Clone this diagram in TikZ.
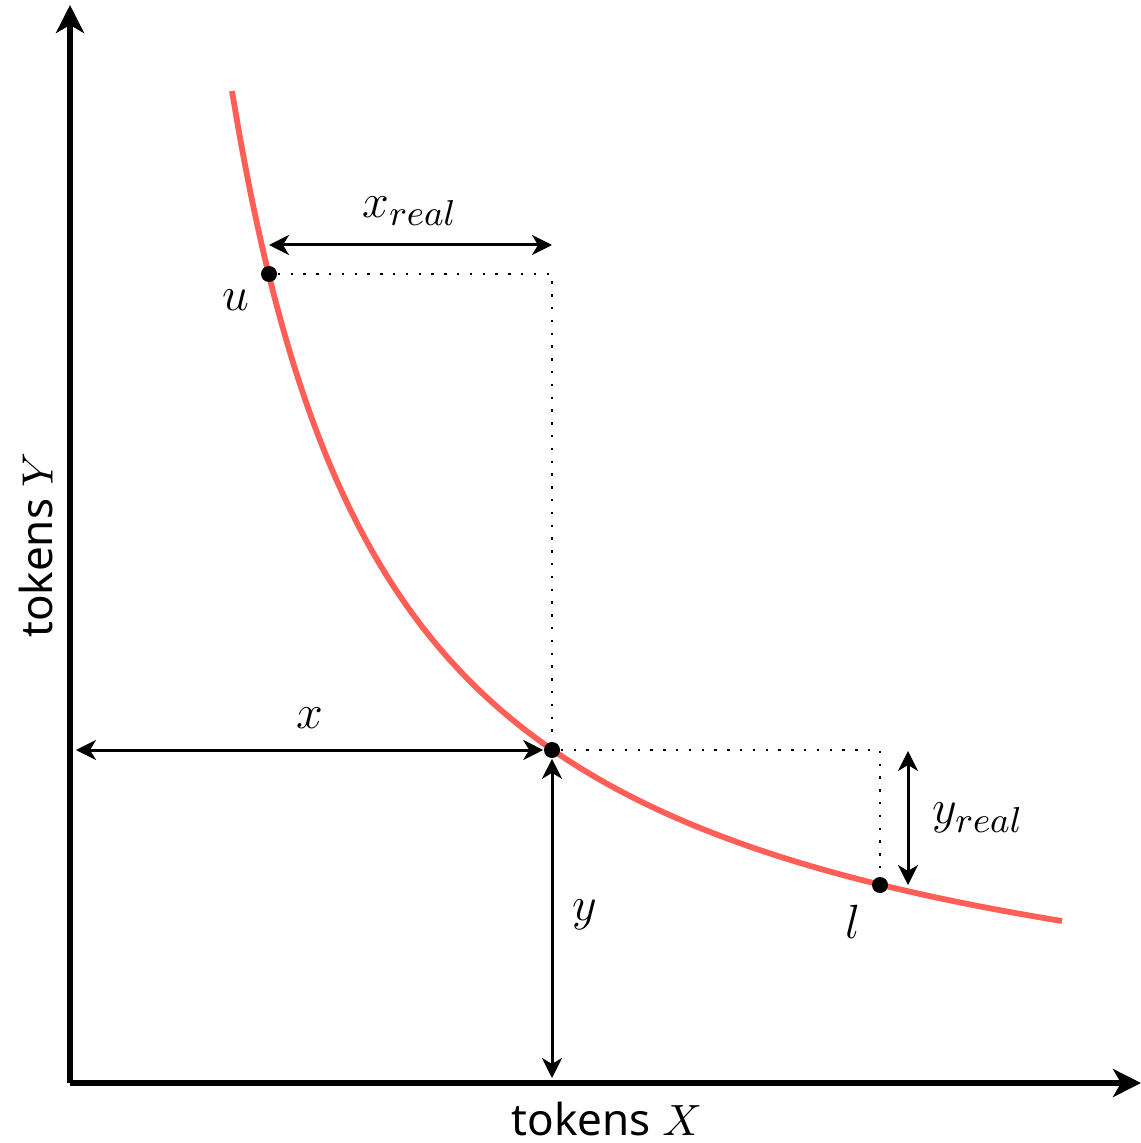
\documentclass[tikz,border=0pt]{standalone}
\usepackage{fontspec}
\newfontfamily\labelfont{Noto Sans}
\usetikzlibrary{arrows.meta}
\definecolor{curvered}{RGB}{255,95,87}
\tikzset{
  axisline/.style={line width=1.5pt,-{Stealth[length=7pt,width=7pt,inset=2pt]}},
  dimarrow/.style={line width=0.75pt,{Stealth[length=5pt,width=5pt,inset=1.5pt]}-{Stealth[length=5pt,width=5pt,inset=1.5pt]}},
  guide/.style={line width=0.6pt,dash pattern=on 0.6pt off 2.6pt},
  dot/.style={circle,fill=black,inner sep=0pt,minimum size=4pt},
  mathlabel/.style={font=\fontsize{13.2}{15}\selectfont,inner sep=0pt},
  axislabel/.style={font=\labelfont\fontsize{11}{13}\selectfont,inner sep=0pt}
}
\begin{document}
\begin{tikzpicture}[x=0.25pt,y=-0.25pt]
\useasboundingbox (0,0) rectangle (1141,1143);
% axes
\coordinate (O) at (70,1083);
\coordinate (ytop) at (70,5);
\coordinate (xend) at (1141,1083);
\draw[axisline] (O) -- (ytop);
\draw[axisline] (O) -- (xend);
\node[axislabel,rotate=90] (ylab) at (36,545) {tokens $Y$};
\node[axislabel] (xlab) at (607,1119) {tokens $X$};
% curve
\draw[curvered,line width=1.45pt] plot[domain=1.62:9.92,samples=120,smooth] ({70+100*\x},{1083-1607/\x});
% points
\node[dot] (u) at (269,274) {};
\node[dot] (p) at (552,750) {};
\node[dot] (l) at (880,885) {};
\coordinate (uc) at (552,274);
\coordinate (pc) at (880,750);
% guides
\draw[guide] (u) -- (uc) -- (p);
\draw[guide] (p) -- (pc) -- (l);
% dimension arrows
\coordinate (xr1) at (269,245);
\coordinate (xr2) at (552,245);
\draw[dimarrow] (xr1) -- (xr2);
\coordinate (xl) at (76,750);
\draw[dimarrow] (xl) -- (p.west);
\coordinate (yb) at (552,1078);
\draw[dimarrow] (p.south) -- (yb);
\coordinate (yr1) at (908,751);
\coordinate (yr2) at (908,885);
\draw[dimarrow] (yr1) -- (yr2);
% labels
\node[mathlabel] (xrl) at (410,211) {$x_{real}$};
\node[mathlabel] (xlb) at (310,718) {$x$};
\node[mathlabel] (ylb) at (585,915) {$y$};
\node[mathlabel] (yrl) at (978,818) {$y_{real}$};
\node[mathlabel] (ul) at (236,300) {$u$};
\node[mathlabel] (ll) at (853,922) {$l$};
\end{tikzpicture}
\end{document}
